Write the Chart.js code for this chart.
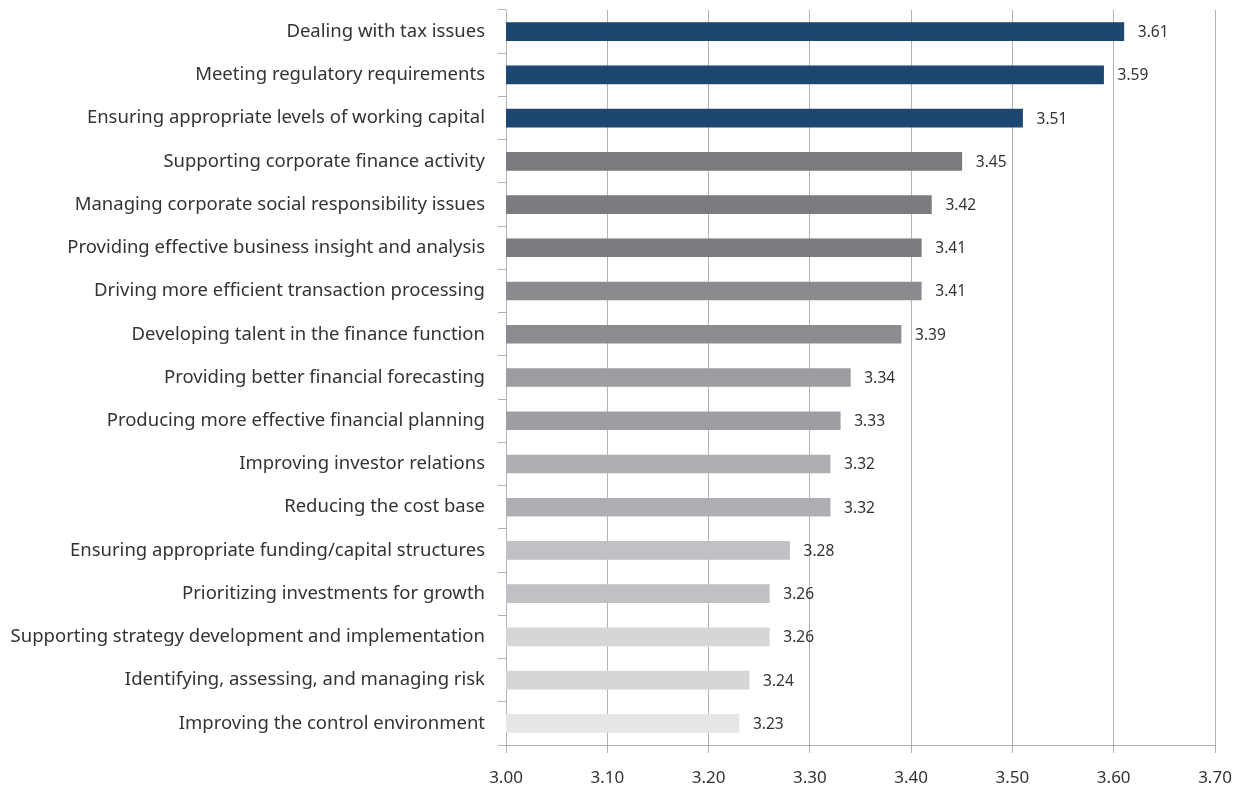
<!DOCTYPE html>
<html>
<head>
<meta charset="utf-8">
<script src="https://cdn.jsdelivr.net/npm/chart.js@4/dist/chart.umd.min.js"></script>
<style>
  html, body { margin: 0; padding: 0; background: #ffffff; }
  #wrap { width: 1243px; height: 791px; position: relative; }
</style>
</head>
<body>
<div id="wrap"><canvas id="chart"></canvas></div>
<script>
// Finance priorities, mean scores
const categories = [
  "Dealing with tax issues",
  "Meeting regulatory requirements",
  "Ensuring appropriate levels of working capital",
  "Supporting corporate finance activity",
  "Managing corporate social responsibility issues",
  "Providing effective business insight and analysis",
  "Driving more efficient transaction processing",
  "Developing talent in the finance function",
  "Providing better financial forecasting",
  "Producing more effective financial planning",
  "Improving investor relations",
  "Reducing the cost base",
  "Ensuring appropriate funding/capital structures",
  "Prioritizing investments for growth",
  "Supporting strategy development and implementation",
  "Identifying, assessing, and managing risk",
  "Improving the control environment"
];
const scores = [3.61, 3.59, 3.51, 3.45, 3.42, 3.41, 3.41, 3.39, 3.34, 3.33, 3.32, 3.32, 3.28, 3.26, 3.26, 3.24, 3.23];
const barColors = [
  "#1d4670", "#1d4670", "#1d4670",
  "#7a7b7f", "#7b7c80", "#7a7b7f",
  "#8a8b8f", "#8b8c90",
  "#9c9da1", "#9d9ea2",
  "#aeafb3", "#aeafb3",
  "#c0c1c4", "#c0c1c4",
  "#d5d6d8", "#d5d6d8",
  "#e6e7e8"
];
const xTicks = [3.00, 3.10, 3.20, 3.30, 3.40, 3.50, 3.60, 3.70];

const FONT = "'Noto Sans', 'Open Sans', sans-serif";
const TEXT = "#333333";
const GRID = "#b3b3b3";

// value labels to the right of each bar
const valueLabels = {
  id: "valueLabels",
  afterDatasetsDraw(chart) {
    const ctx = chart.ctx;
    const meta = chart.getDatasetMeta(0);
    ctx.save();
    ctx.font = "15.5px " + FONT;
    ctx.fillStyle = TEXT;
    ctx.textAlign = "left";
    ctx.textBaseline = "middle";
    meta.data.forEach((bar, i) => {
      ctx.fillText(scores[i].toFixed(2), bar.x + 14, bar.y + 1);
    });
    ctx.restore();
  }
};

new Chart(document.getElementById("chart"), {
  type: "bar",
  data: {
    labels: categories,
    datasets: [{
      data: scores,
      backgroundColor: barColors,
      borderWidth: 0,
      barThickness: 18
    }]
  },
  options: {
    indexAxis: "y",
    responsive: true,
    maintainAspectRatio: false,
    animation: false,
    layout: { padding: { left: 0, right: 28, top: 10, bottom: 0 } },
    plugins: {
      legend: { display: false },
      tooltip: { enabled: false }
    },
    scales: {
      x: {
        min: 3.0,
        max: 3.7,
        z: 1,
        afterBuildTicks(scale) {
          scale.ticks = xTicks.map(v => ({ value: v }));
        },
        afterFit(scale) {
          scale.height = 46;
          scale.paddingLeft = 0;
          scale.paddingRight = 0;
        },
        ticks: {
          font: { family: FONT, size: 17 },
          color: TEXT,
          padding: 15,
          callback: v => Number(v).toFixed(2)
        },
        grid: {
          color: GRID,
          lineWidth: 1,
          tickLength: 8,
          drawTicks: true
        },
        border: { color: GRID, width: 1 }
      },
      y: {
        afterFit(scale) {
          scale.width = 506;
          scale.paddingTop = 0;
          scale.paddingBottom = 0;
        },
        ticks: {
          font: { family: FONT, size: 18.5 },
          color: TEXT,
          padding: 13,
          autoSkip: false
        },
        grid: {
          offset: true,
          drawOnChartArea: false,
          color: GRID,
          tickLength: 8
        },
        border: { color: GRID, width: 1 }
      }
    }
  },
  plugins: [valueLabels]
});
</script>
</body>
</html>
